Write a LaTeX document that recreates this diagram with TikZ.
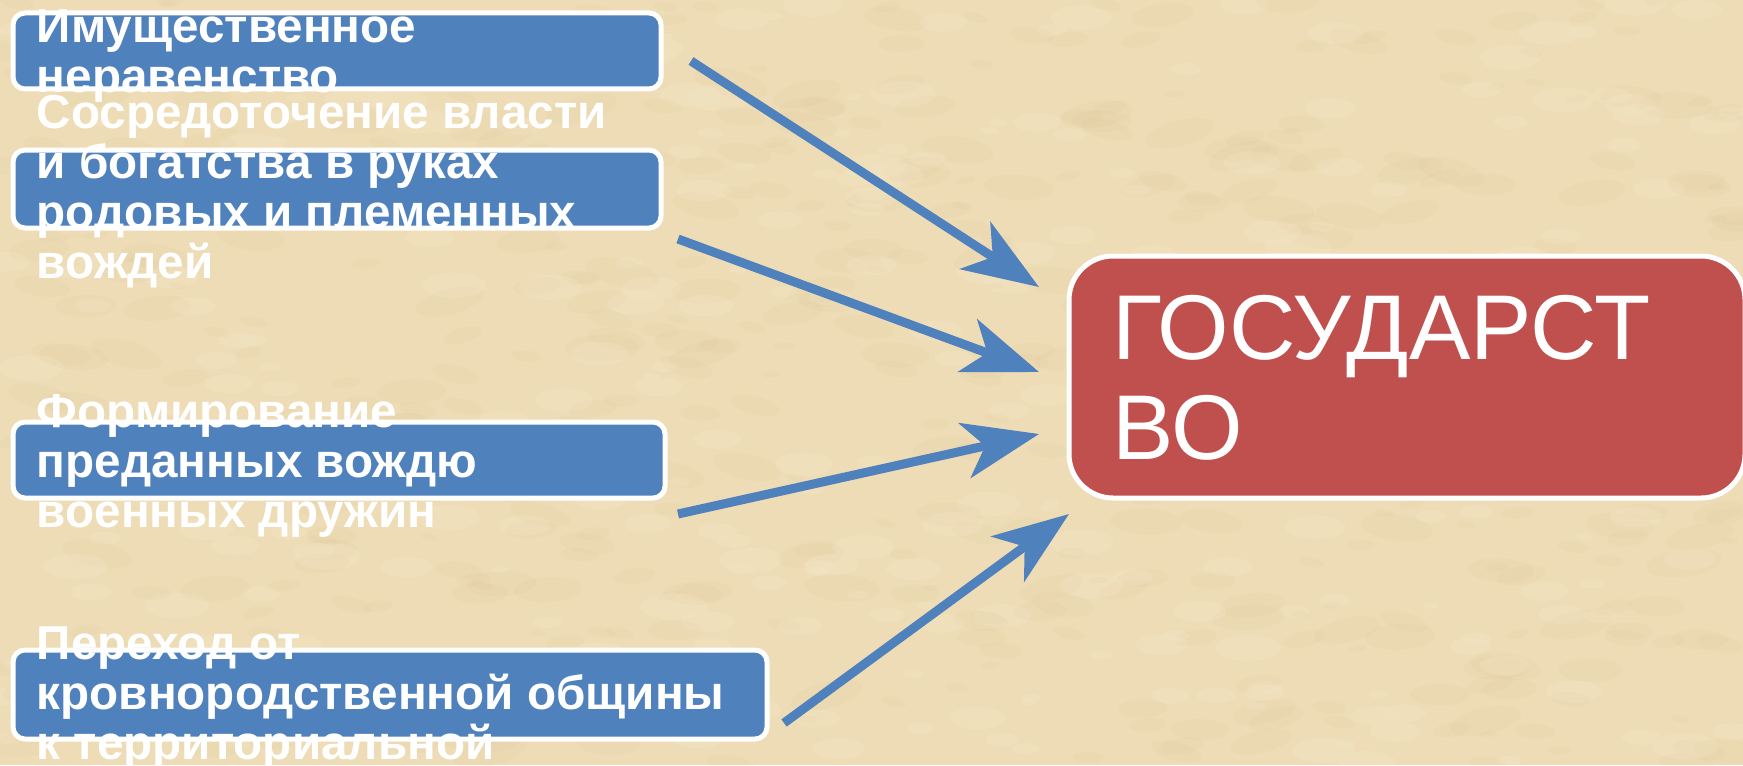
\documentclass[tikz,border=0pt]{standalone}
\usepackage{fontspec}
\setmainfont{Liberation Sans}
\usetikzlibrary{arrows.meta,calc}
\definecolor{parch}{RGB}{237,220,182}
\definecolor{parchdark}{RGB}{210,184,134}
\definecolor{parchlight}{RGB}{248,236,206}
\definecolor{oblue}{RGB}{79,129,189}
\definecolor{ored}{RGB}{192,80,77}
\tikzset{
 bluebox/.style={draw=white, line width=2.5pt, fill=oblue, rounded corners=6pt, inner sep=0pt},
 redbox/.style={draw=white, line width=2.5pt, fill=ored, rounded corners=22pt, inner sep=0pt},
 boxtext/.style={text=white, font=\bfseries\fontsize{23.8pt}{25pt}\selectfont, align=left, inner sep=0pt, anchor=west},
 bigtext/.style={text=white, font=\fontsize{46pt}{50pt}\selectfont, align=left, inner sep=0pt, anchor=west},
 arr/.style={draw=oblue, line width=4.5pt, -{Stealth[length=38pt,width=28pt,inset=10.5pt]}},
}
\begin{document}
\begin{tikzpicture}[x=0.5pt,y=-0.5pt]
\useasboundingbox (0,0) rectangle (1743,765);
\clip (0,0) rectangle (1743,765);
\fill[parch] (0,0) rectangle (1743,765);
\pgfmathsetseed{11}
\foreach \i in {1,...,500}{
  \pgfmathsetmacro{\xx}{rnd*1743}
  \pgfmathsetmacro{\yy}{rnd*765}
  \pgfmathsetmacro{\rr}{8+rnd*30}
  \pgfmathsetmacro{\aa}{rnd*30-15}
  \fill[parchdark, opacity=0.07, rotate around={\aa:(\xx,\yy)}] (\xx,\yy) ellipse ({\rr*0.5pt} and {\rr*0.18pt});
}
\foreach \i in {1,...,300}{
  \pgfmathsetmacro{\xx}{rnd*1743}
  \pgfmathsetmacro{\yy}{rnd*765}
  \pgfmathsetmacro{\rr}{8+rnd*26}
  \fill[parchlight, opacity=0.2] (\xx,\yy) ellipse ({\rr*0.5pt} and {\rr*0.2pt});
}
% boxes
\node[bluebox, minimum width=324pt, minimum height=38pt] (b1) at (337,51) {};
\node[bluebox, minimum width=324pt, minimum height=39pt] (b2) at (337,189) {};
\node[bluebox, minimum width=326pt, minimum height=38pt] (b3) at (339,460) {};
\node[bluebox, minimum width=377pt, minimum height=44.5pt] (b4) at (390,694.5) {};
\node[redbox, minimum width=338pt, minimum height=121pt] (st) at (1407,377) {};
% texts
\node[boxtext] (t1) at ($(b1.west)+(26,5)$) {Имущественное\\неравенство};
\node[boxtext] (t2) at ($(b2.west)+(26,3)$) {Сосредоточение власти\\и богатства в руках\\родовых и племенных\\вождей};
\node[boxtext] (t3) at ($(b3.west)+(26,6)$) {Формирование\\преданных вождю\\военных дружин};
\node[boxtext] (t4) at ($(b4.west)+(26,4)$) {Переход от\\кровнородственной общины\\к территориальной};
\node[bigtext] (ts) at ($(st.west)+(46,1)$) {ГОСУДАРСТ\\ВО};
% arrows
\coordinate (a1s) at (691,61);  \coordinate (a1e) at (1039,287);
\coordinate (a2s) at (678,239); \coordinate (a2e) at (1039,372);
\coordinate (a3s) at (678,514); \coordinate (a3e) at (1039,434);
\coordinate (a4s) at (784,723); \coordinate (a4e) at (1069,514);
\draw[arr] (a1s) -- (a1e);
\draw[arr] (a2s) -- (a2e);
\draw[arr] (a3s) -- (a3e);
\draw[arr] (a4s) -- (a4e);
\end{tikzpicture}
\end{document}
